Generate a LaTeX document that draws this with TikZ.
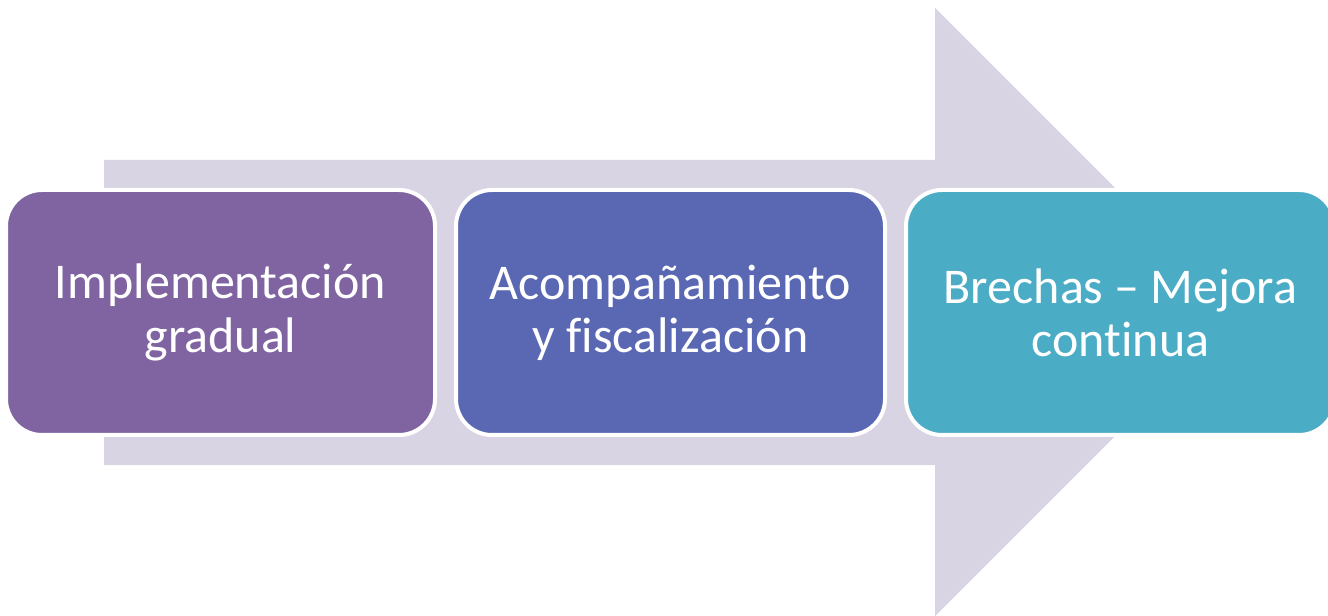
\documentclass[tikz,border=0pt]{standalone}
\usepackage{fontspec}
\setmainfont[Ligatures=CommonOff]{Carlito}
\usepackage{tikz}
\usetikzlibrary{positioning}

\definecolor{arrowgray}{HTML}{D8D4E3}
\definecolor{boxpurple}{HTML}{8064A2}
\definecolor{boxblue}{HTML}{5A68B3}
\definecolor{boxteal}{HTML}{4BACC6}

\begin{document}
\begin{tikzpicture}[x=0.75pt,y=-0.75pt,
    stepbox/.style={draw=white, line width=3pt, rounded corners=27pt,
        minimum width=321.75pt, minimum height=183.75pt, align=center,
        text=white, font=\fontsize{37.5}{40}\selectfont}]
        \useasboundingbox (0,0) rectangle (1328,616);

        %big arrow
        \fill [arrowgray] (104,160)--(935,160)--(935,8)--(1239,312)--(935,616)--(935,465)--(104,465)--cycle;

        %steps
        \node [stepbox, fill=boxpurple] (impl) at (220.5,312.5) {Implementación\\gradual};
        \node [stepbox, fill=boxblue] (acomp) at (670.5,312.5) {Acompañamiento\\y fiscalización};
        \node [stepbox, fill=boxteal] (brechas) at (1120.5,312.5) {Brechas – Mejora\\continua};
\end{tikzpicture}
\end{document}
